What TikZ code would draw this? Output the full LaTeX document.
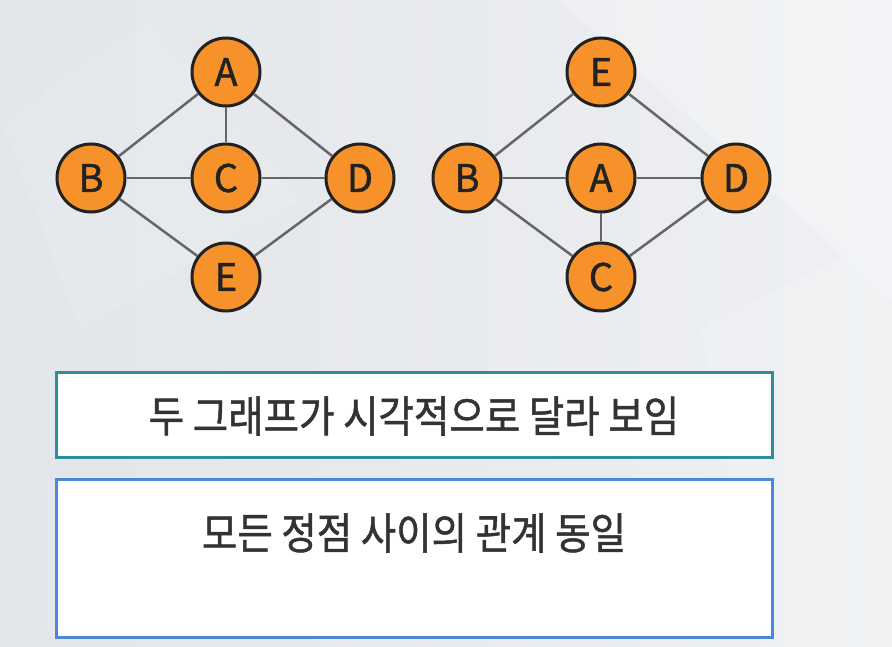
\documentclass[tikz,border=0pt]{standalone}
\usepackage{fontspec}
\setmainfont{Noto Sans CJK KR}
\newfontfamily\krfont{Noto Sans CJK KR}[FakeBold=1.2]
\newcommand{\tallkr}[1]{\scalebox{1}[1.12]{\krfont #1}}
\definecolor{bggray}{HTML}{E2E5E9}
\definecolor{bglight}{HTML}{EEF0F3}
\definecolor{vorange}{HTML}{F7922B}
\definecolor{vborder}{HTML}{222222}
\definecolor{edgegray}{HTML}{666666}
\definecolor{tealline}{HTML}{2F8E9B}
\definecolor{blueline}{HTML}{4C87DA}
\definecolor{textdark}{HTML}{333333}
\begin{document}
\begin{tikzpicture}[
    x=1pt, y=-1pt,
    vertex/.style={circle, draw=vborder, line width=3pt, fill=vorange, minimum size=68pt, inner sep=0pt, text=vborder, font=\krfont\fontsize{38}{40}\selectfont},
    edge/.style={draw=edgegray, line width=2.5pt},
    box/.style={rectangle, draw, line width=3pt, fill=white, minimum width=716pt, inner sep=0pt},
    label/.style={text=textdark, font=\fontsize{38.5}{42}\selectfont}
]
    % Background
    \useasboundingbox (0,0) rectangle (892,647);
    \shade[left color=bggray, right color=bglight] (0,0) rectangle (892,647);
    \fill[white, opacity=0.25] (560,0) -- (892,0) -- (892,300) -- cycle;
    \fill[white, opacity=0.15] (700,330) -- (892,230) -- (892,647) -- (760,647) -- cycle;
    \fill[white, opacity=0.1] (0,120) -- (150,20) -- (300,200) -- (80,330) -- cycle;

    % Left graph
    \node[vertex] (la) at (226,72) {A};
    \node[vertex] (lb) at (91,178) {B};
    \node[vertex] (lc) at (226,178) {C};
    \node[vertex] (ld) at (360,178) {D};
    \node[vertex] (le) at (226,277) {E};

    % Right graph
    \node[vertex] (re) at (601,72) {E};
    \node[vertex] (rb) at (467,178) {B};
    \node[vertex] (ra) at (601,178) {A};
    \node[vertex] (rd) at (736,178) {D};
    \node[vertex] (rc) at (601,277) {C};

    % Connections
    \draw[edge] (la) -- (lb);
    \draw[edge] (la) -- (lc);
    \draw[edge] (la) -- (ld);
    \draw[edge] (lb) -- (lc);
    \draw[edge] (lc) -- (ld);
    \draw[edge] (lb) -- (le);
    \draw[edge] (ld) -- (le);

    \draw[edge] (re) -- (rb);
    \draw[edge] (re) -- (rd);
    \draw[edge] (rb) -- (ra);
    \draw[edge] (ra) -- (rd);
    \draw[edge] (ra) -- (rc);
    \draw[edge] (rb) -- (rc);
    \draw[edge] (rd) -- (rc);

    % Boxes
    \node[box, draw=tealline, minimum height=85pt] (visual) at (414,415) {};
    \node[label] (visualtext) at (414,416) {\tallkr{두 그래프가 시각적으로 달라 보임}};
    \node[box, draw=blueline, minimum height=158pt] (relation) at (414,558) {};
    \node[label] (relationtext) at (414,533) {\tallkr{모든 정점 사이의 관계 동일}};
\end{tikzpicture}
\end{document}
